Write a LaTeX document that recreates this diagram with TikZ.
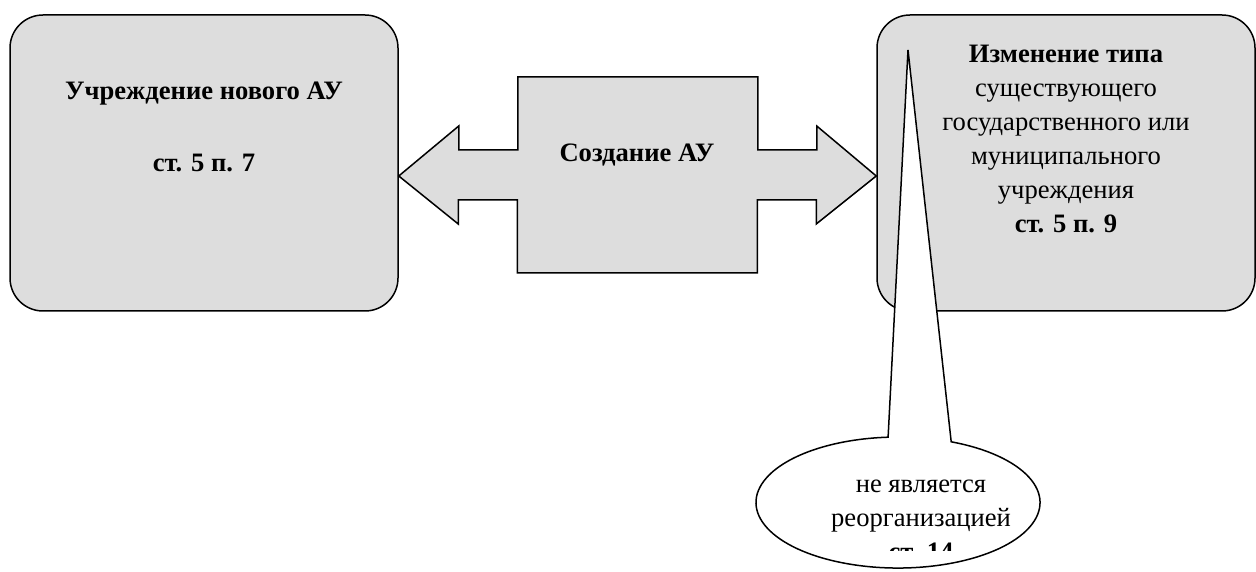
\documentclass[tikz,border=0pt]{standalone}
\usepackage{fontspec}
\setmainfont{Liberation Serif}
\begin{document}
\begin{tikzpicture}[x=1pt,y=1pt,line width=1.5pt,
  box/.style={draw=black, fill=boxgray, rounded corners=33pt, inner sep=0pt},
  shapearrow/.style={draw=black, fill=boxgray, line join=miter},
  callout/.style={draw=black, fill=white},
  txt/.style={font=\fontsize{26.6}{34}\selectfont, inner sep=0pt, anchor=base, align=center}]
\definecolor{boxgray}{HTML}{DDDDDD}
\useasboundingbox (0,0) rectangle (1256,571);
% boxes
\node[box, minimum width=388pt, minimum height=296pt] (L) at (204,408) {};
\node[box, minimum width=378pt, minimum height=296pt] (R) at (1066,408) {};
% double arrow between the boxes
\coordinate (ya) at (0,395);
\coordinate (tl) at (L.east |- ya);
\coordinate (tr) at (R.west |- ya);
\draw[shapearrow] (tl) -- ++(60,50) -- ++(0,-24) -- ++(59,0) -- ++(0,73) -- ++(240,0)
  -- ++(0,-73) -- ++(59,0) -- ++(0,24) -- (tr) -- ++(-60,-48) -- ++(0,24) -- ++(-59,0)
  -- ++(0,-73) -- ++(-240,0) -- ++(0,73) -- ++(-59,0) -- ++(0,-24) -- cycle;
\node[txt] (C) at (637,409) {\bfseries Создание АУ};
% callout
\coordinate (tip) at (908,521);
\draw[callout] (tip) -- (951.2,129.2)
  arc[start angle=68, end angle=-266, x radius=142, y radius=65.5] -- cycle;
% texts
\node[txt] (LT1) at (204,471) {\bfseries Учреждение нового АУ};
\node[txt] (LT2) at (204,399) {\bfseries ст. 5 п. 7};
\node[txt] (RT) at (1066,338) {\bfseries Изменение типа\\существующего\\государственного или\\муниципального\\учреждения\\\bfseries ст. 5 п. 9};
\begin{scope}
\clip (0,21) rectangle (1256,571);
\node[txt] (CT) at (921,11) {не является\\реорганизацией\\\bfseries ст. 14};
\end{scope}
\end{tikzpicture}
\end{document}
